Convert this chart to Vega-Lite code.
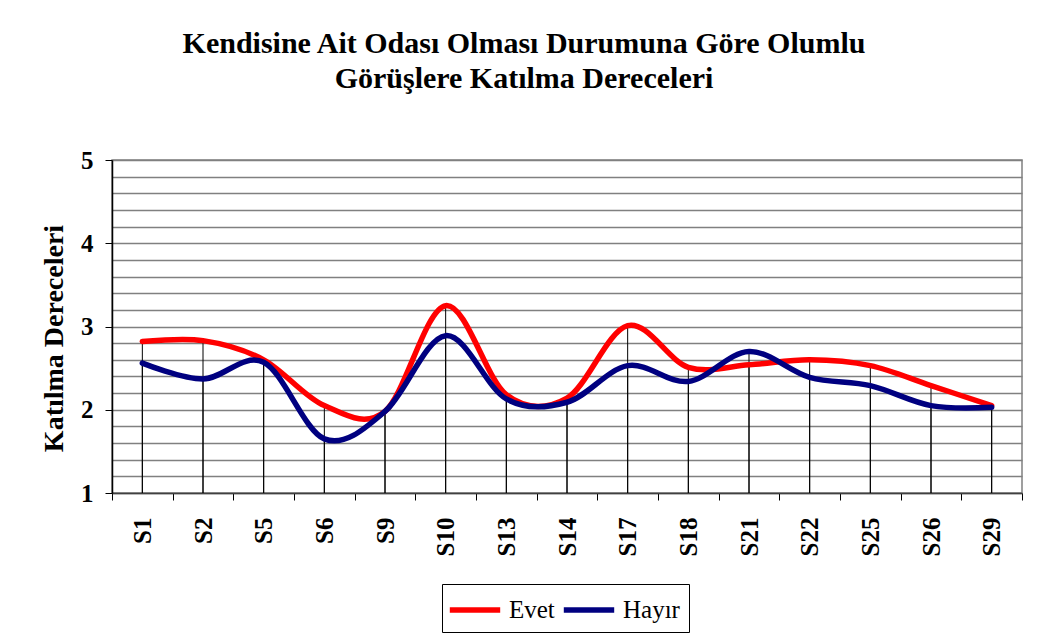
{
  "$schema": "https://vega.github.io/schema/vega-lite/v6.json",
  "autosize": {"type": "none"},
  "padding": {"left": 112, "top": 160, "right": 17, "bottom": 146},
  "width": 910,
  "height": 333,
  "background": "white",
  "config": {
    "font": "Liberation Serif",
    "view": {"stroke": "#808080", "strokeWidth": 1.5}
  },
  "title": {
    "text": ["Kendisine Ait Odası Olması Durumuna Göre Olumlu", "Görüşlere Katılma Dereceleri"],
    "font": "Liberation Serif",
    "fontSize": 30,
    "fontWeight": "bold",
    "color": "black",
    "anchor": "middle",
    "frame": "group",
    "dx": -43,
    "offset": 54,
    "lineHeight": 35
  },
  "data": {
    "values": [
      {"soru": "S1", "grup": "Evet", "deger": 2.82},
      {"soru": "S2", "grup": "Evet", "deger": 2.83},
      {"soru": "S5", "grup": "Evet", "deger": 2.6},
      {"soru": "S6", "grup": "Evet", "deger": 2.05},
      {"soru": "S9", "grup": "Evet", "deger": 1.98},
      {"soru": "S10", "grup": "Evet", "deger": 3.25},
      {"soru": "S13", "grup": "Evet", "deger": 2.18},
      {"soru": "S14", "grup": "Evet", "deger": 2.14},
      {"soru": "S17", "grup": "Evet", "deger": 3.01},
      {"soru": "S18", "grup": "Evet", "deger": 2.51},
      {"soru": "S21", "grup": "Evet", "deger": 2.54},
      {"soru": "S22", "grup": "Evet", "deger": 2.6},
      {"soru": "S25", "grup": "Evet", "deger": 2.53},
      {"soru": "S26", "grup": "Evet", "deger": 2.29},
      {"soru": "S29", "grup": "Evet", "deger": 2.05},
      {"soru": "S1", "grup": "Hayır", "deger": 2.56},
      {"soru": "S2", "grup": "Hayır", "deger": 2.37},
      {"soru": "S5", "grup": "Hayır", "deger": 2.57},
      {"soru": "S6", "grup": "Hayır", "deger": 1.65},
      {"soru": "S9", "grup": "Hayır", "deger": 1.98},
      {"soru": "S10", "grup": "Hayır", "deger": 2.89},
      {"soru": "S13", "grup": "Hayır", "deger": 2.13},
      {"soru": "S14", "grup": "Hayır", "deger": 2.09},
      {"soru": "S17", "grup": "Hayır", "deger": 2.53},
      {"soru": "S18", "grup": "Hayır", "deger": 2.34},
      {"soru": "S21", "grup": "Hayır", "deger": 2.7},
      {"soru": "S22", "grup": "Hayır", "deger": 2.39},
      {"soru": "S25", "grup": "Hayır", "deger": 2.29},
      {"soru": "S26", "grup": "Hayır", "deger": 2.05},
      {"soru": "S29", "grup": "Hayır", "deger": 2.03}
    ]
  },
  "encoding": {
    "x": {
      "field": "soru",
      "type": "nominal",
      "sort": null,
      "scale": {"paddingInner": 0, "paddingOuter": 0},
      "axis": {
        "title": null,
        "tickBand": "extent",
        "labelAngle": 270,
        "labelAlign": "right",
        "labelBaseline": "middle",
        "labelFont": "Liberation Serif",
        "labelFontSize": 25,
        "labelFontWeight": "bold",
        "labelColor": "black",
        "labelPadding": 17,
        "tickSize": 7,
        "tickColor": "black",
        "tickWidth": 1,
        "domainColor": "#404040",
        "domainWidth": 1.5,
        "grid": false
      }
    },
    "y": {
      "field": "deger",
      "type": "quantitative",
      "scale": {"domain": [1, 5], "nice": false, "zero": false},
      "axis": {
        "title": "Katılma Dereceleri",
        "titleFont": "Liberation Serif",
        "titleFontSize": 28,
        "titleFontWeight": "bold",
        "titleColor": "black",
        "titlePadding": 12,
        "titleY": 178,
        "values": [1, 1.2, 1.4, 1.6, 1.8, 2, 2.2, 2.4, 2.6, 2.8, 3, 3.2, 3.4, 3.6, 3.8, 4, 4.2, 4.4, 4.6, 4.8, 5],
        "labelExpr": "abs(datum.value - round(datum.value)) < 0.001 ? format(datum.value, 'd') : ''",
        "labelOverlap": false,
        "labelFont": "Liberation Serif",
        "labelFontSize": 25,
        "labelFontWeight": "bold",
        "labelColor": "black",
        "labelPadding": 12,
        "tickSize": 7,
        "tickColor": "black",
        "tickOpacity": {"condition": {"test": "abs(datum.value - round(datum.value)) < 0.001", "value": 1}, "value": 0},
        "domainColor": "black",
        "domainWidth": 1.5,
        "grid": true,
        "gridColor": "#808080",
        "gridWidth": 1.5,
        "gridOpacity": 1
      }
    }
  },
  "layer": [
    {
      "mark": {"type": "rule", "color": "black", "strokeWidth": 1},
      "encoding": {
        "y2": {"datum": 1}
      }
    },
    {
      "mark": {"type": "line", "interpolate": "cardinal", "strokeWidth": 5.5, "strokeCap": "round", "strokeJoin": "round"},
      "encoding": {
        "color": {
          "field": "grup",
          "type": "nominal",
          "scale": {"domain": ["Evet", "Hayır"], "range": ["#FF0000", "#000080"]},
          "legend": {
            "title": null,
            "orient": "none",
            "legendX": 330,
            "legendY": 424,
            "direction": "horizontal",
            "symbolType": "M-1.8,0H1.8",
            "symbolSize": 784,
            "symbolOffset": 7,
            "symbolStrokeWidth": 5.5,
            "labelFont": "Liberation Serif",
            "labelFontSize": 25,
            "labelColor": "black",
            "labelOffset": 17,
            "columnPadding": -3,
            "strokeColor": "black",
            "padding": 9,
            "fillColor": "white"
          }
        }
      }
    }
  ]
}
